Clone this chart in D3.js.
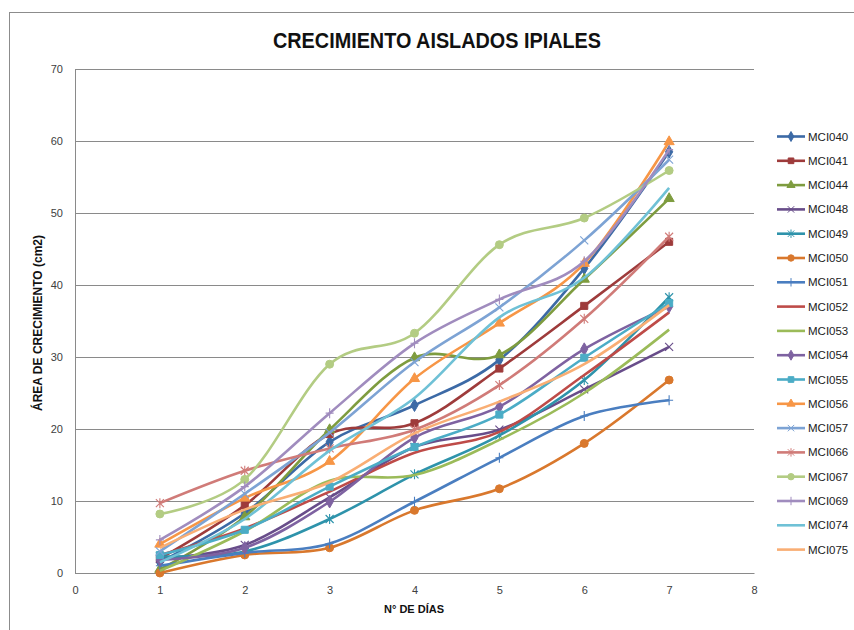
<!DOCTYPE html>
<html>
<head>
<meta charset="utf-8">
<script src="https://cdn.jsdelivr.net/npm/d3@7"></script>
<style>
  body { margin: 0; background: #fff; }
  text { font-family: "Liberation Sans Narrow", "Liberation Sans", "Noto Sans", sans-serif; }
</style>
</head>
<body>
<script>
// days on the x axis
var days = [1, 2, 3, 4, 5, 6, 7];
var yTicks = [0, 10, 20, 30, 40, 50, 60, 70];
var xTicks = [0, 1, 2, 3, 4, 5, 6, 7, 8];

// area (cm2) per isolate
var mci040 = [1.5, 8.3, 18.2, 23.3, 29.6, 42.3, 58.5];
var mci041 = [2.0, 9.4, 19.3, 20.8, 28.4, 37.1, 46.0];
var mci044 = [0.5, 7.8, 19.9, 29.9, 30.3, 40.8, 52.0];
var mci048 = [2.0, 3.9, 10.5, 17.5, 19.9, 25.5, 31.4];
var mci049 = [2.3, 3.0, 7.5, 13.7, 19.1, 26.8, 38.3];
var mci050 = [0.0, 2.5, 3.5, 8.7, 11.7, 18.0, 26.8];
var mci051 = [1.0, 2.8, 4.1, 9.9, 16.0, 21.8, 24.0];
var mci052 = [2.5, 6.2, 11.3, 16.7, 19.6, 27.5, 36.2];
var mci053 = [0.3, 5.8, 12.8, 13.6, 18.5, 25.0, 33.8];
var mci054 = [1.8, 3.5, 9.9, 18.8, 23.1, 31.1, 37.0];
var mci055 = [2.5, 6.0, 12.0, 17.5, 22.0, 29.9, 37.5];
var mci056 = [4.0, 10.4, 15.5, 27.0, 34.7, 43.0, 59.9];
var mci057 = [3.0, 11.0, 19.5, 29.3, 36.9, 46.2, 57.4];
var mci066 = [9.7, 14.2, 17.3, 19.9, 26.1, 35.3, 46.7];
var mci067 = [8.2, 13.0, 29.0, 33.3, 45.6, 49.3, 55.9];
var mci069 = [4.6, 12.0, 22.2, 31.9, 38.0, 43.3, 58.8];
var mci074 = [1.5, 7.5, 17.0, 24.3, 35.5, 41.0, 53.5];
var mci075 = [3.5, 8.8, 12.6, 19.4, 23.8, 29.0, 37.2];

var seriesNames = ["MCI040", "MCI041", "MCI044", "MCI048", "MCI049", "MCI050",
                   "MCI051", "MCI052", "MCI053", "MCI054", "MCI055", "MCI056",
                   "MCI057", "MCI066", "MCI067", "MCI069", "MCI074", "MCI075"];
var seriesValues = [mci040, mci041, mci044, mci048, mci049, mci050,
                    mci051, mci052, mci053, mci054, mci055, mci056,
                    mci057, mci066, mci067, mci069, mci074, mci075];

// excel-ish palette and marker cycle
var colors = ["#3c6aa6", "#9e3b3b", "#7e9c3f", "#684d8a", "#2e93ab", "#d9782d",
              "#4a7ec0", "#be4b48", "#9bbb59", "#7e62a1", "#4bacc6", "#f79646",
              "#7da3d4", "#d07b78", "#b3cc83", "#a08cbe", "#6fc1d6", "#f9ae74"];
var markers = ["diamond", "square", "triangle", "x", "star", "circle", "plus", "none", "none",
               "diamond", "square", "triangle", "x", "star", "circle", "plus", "none", "none"];

var WIDTH = 854, HEIGHT = 630;
var margin = {left: 75, right: 100, top: 69, bottom: 57};

var svg = d3.select("body").append("svg")
    .attr("width", WIDTH)
    .attr("height", HEIGHT);

// chart frame (only left/top edges fall inside the window)
svg.append("rect")
    .attr("x", 9.5).attr("y", 12.5)
    .attr("width", 900).attr("height", 700)
    .attr("fill", "none")
    .attr("stroke", "#8c8c8c");

var x = d3.scaleLinear().domain([0, 8]).range([margin.left, WIDTH - margin.right]);
var y = d3.scaleLinear().domain([0, 70]).range([HEIGHT - margin.bottom, margin.top]);

// grid lines
svg.append("g")
    .selectAll("line")
    .data(yTicks)
    .enter().append("line")
    .attr("x1", x(0)).attr("x2", x(8))
    .attr("y1", d => Math.round(y(d)) + 0.5)
    .attr("y2", d => Math.round(y(d)) + 0.5)
    .attr("stroke", "#8a8a8a")
    .attr("stroke-width", 1);

// axes
var yAxis = svg.append("g")
    .attr("transform", `translate(${x(0)},0)`)
    .call(d3.axisLeft(y).tickValues(yTicks).tickSize(0).tickPadding(12));
var xAxis = svg.append("g")
    .attr("transform", `translate(0,${y(0)})`)
    .call(d3.axisBottom(x).tickValues(xTicks).tickSize(0).tickPadding(13));
[yAxis, xAxis].forEach(function(a) {
    a.select(".domain").attr("stroke", "#8a8a8a");
    a.selectAll("text").attr("font-size", "11px").attr("fill", "#404040")
        .style("font-family", "'Liberation Sans', sans-serif");
});

// marker shapes
function markerPath(type, k) {
    var s = 4 * k;
    switch (type) {
        case "diamond": return d3.symbol(d3.symbolDiamond, 45 * k * k)();
        case "square": return d3.symbol(d3.symbolSquare, 50 * k * k)();
        case "triangle": return d3.symbol(d3.symbolTriangle, 45 * k * k)();
        case "circle": return d3.symbol(d3.symbolCircle, 50 * k * k)();
        case "x": return `M${-s},${-s}L${s},${s}M${-s},${s}L${s},${-s}`;
        case "star": return `M${-s},${-s}L${s},${s}M${-s},${s}L${s},${-s}M0,${-s - 1}L0,${s + 1}`;
        case "plus": return `M${-s},0L${s},0M0,${-s - 1}L0,${s + 1}`;
        default: return null;
    }
}
function isStroked(type) { return type === "x" || type === "star" || type === "plus"; }

var line = d3.line()
    .x((d, i) => x(days[i]))
    .y(d => y(d))
    .curve(d3.curveCardinal.tension(0));

var series = seriesNames.map((name, i) => ({name: name, values: seriesValues[i], color: colors[i], marker: markers[i]}));

var plot = svg.append("g");
series.forEach(function(s) {
    var g = plot.append("g");
    g.append("path")
        .attr("d", line(s.values))
        .attr("fill", "none")
        .attr("stroke", s.color)
        .attr("stroke-width", 2.6);
    if (s.marker !== "none") {
        g.selectAll("path.mk")
            .data(s.values)
            .enter().append("path")
            .attr("class", "mk")
            .attr("d", markerPath(s.marker, 1))
            .attr("transform", (d, i) => `translate(${x(days[i])},${y(d)})`)
            .attr("fill", isStroked(s.marker) ? "none" : s.color)
            .attr("stroke", s.color)
            .attr("stroke-width", isStroked(s.marker) ? 1.1 : 1);
    }
});

// legend
var legend = svg.append("g");
var item = legend.selectAll("g")
    .data(series)
    .enter().append("g")
    .attr("transform", (d, i) => `translate(777,${136.5 + i * 24.3})`);
item.append("line")
    .attr("x1", 0).attr("x2", 28)
    .attr("stroke", d => d.color)
    .attr("stroke-width", 2.6);
item.filter(d => d.marker !== "none").append("path")
    .attr("d", d => markerPath(d.marker, 0.8))
    .attr("transform", "translate(14,0)")
    .attr("fill", d => isStroked(d.marker) ? "none" : d.color)
    .attr("stroke", d => d.color)
    .attr("stroke-width", 1);
item.append("text")
    .attr("x", 31).attr("y", 4)
    .attr("font-size", "11.5px")
    .attr("fill", "#222")
    .text(d => d.name);

// titles
svg.append("text")
    .attr("x", 437).attr("y", 48)
    .attr("text-anchor", "middle")
    .attr("font-size", "22px")
    .attr("font-weight", "bold")
    .attr("fill", "#111")
    .attr("textLength", 328)
    .attr("lengthAdjust", "spacingAndGlyphs")
    .text("CRECIMIENTO AISLADOS IPIALES");

svg.append("text")
    .attr("transform", "translate(42,323) rotate(-90)")
    .attr("text-anchor", "middle")
    .attr("font-size", "12px")
    .attr("font-weight", "bold")
    .attr("fill", "#111")
    .text("ÁREA DE CRECIMIENTO (cm2)");

svg.append("text")
    .attr("x", 414).attr("y", 613)
    .attr("text-anchor", "middle")
    .attr("font-size", "11px")
    .attr("font-weight", "bold")
    .attr("fill", "#111")
    .text("N° DE DÍAS");
</script>
</body>
</html>
